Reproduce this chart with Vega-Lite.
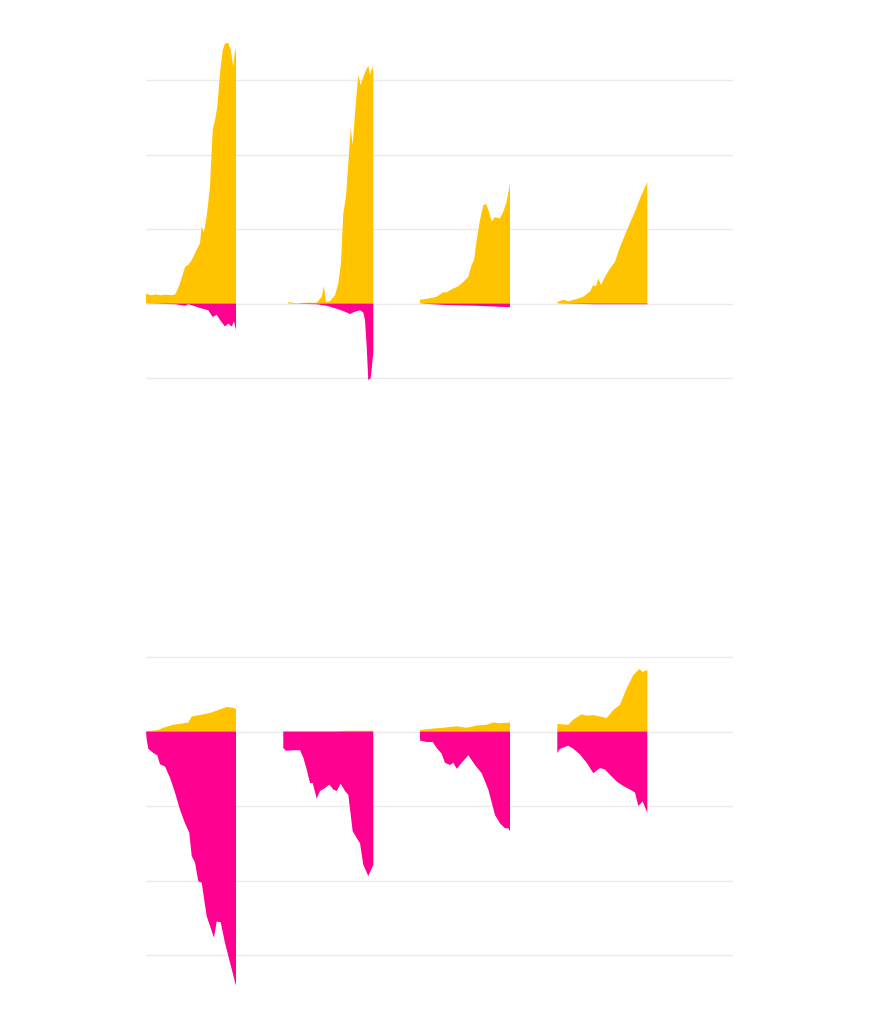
{
  "$schema": "https://vega.github.io/schema/vega-lite/v6.json",
  "background": "transparent",
  "autosize": {"type": "pad"},
  "padding": {"left": 146, "top": 42, "right": 0, "bottom": 0},
  "spacing": 276,
  "config": {
    "view": {"stroke": null},
    "axis": {
      "domain": false, "ticks": false, "labels": false, "title": null,
      "grid": true, "gridColor": "#000000", "gridOpacity": 0.08, "gridWidth": 1.5,
      "zindex": 1, "minExtent": 0, "maxExtent": 0
    }
  },
  "datasets": {
    "top": [
      {"panel": 1, "s": "up", "x": 0, "v": 0.13}, {"panel": 1, "s": "up", "x": 5, "v": 0.11}, {"panel": 1, "s": "up", "x": 10, "v": 0.12}, {"panel": 1, "s": "up", "x": 15, "v": 0.11}, {"panel": 1, "s": "up", "x": 20, "v": 0.12}, {"panel": 1, "s": "up", "x": 25, "v": 0.11}, {"panel": 1, "s": "up", "x": 29, "v": 0.12}, {"panel": 1, "s": "up", "x": 30.7, "v": 0.16}, {"panel": 1, "s": "up", "x": 34, "v": 0.27}, {"panel": 1, "s": "up", "x": 39, "v": 0.49}, {"panel": 1, "s": "up", "x": 42.3, "v": 0.52}, {"panel": 1, "s": "up", "x": 45.7, "v": 0.58}, {"panel": 1, "s": "up", "x": 50.7, "v": 0.72}, {"panel": 1, "s": "up", "x": 54, "v": 0.81}, {"panel": 1, "s": "up", "x": 55.7, "v": 1.03}, {"panel": 1, "s": "up", "x": 58, "v": 0.96}, {"panel": 1, "s": "up", "x": 60.7, "v": 1.17}, {"panel": 1, "s": "up", "x": 64, "v": 1.57}, {"panel": 1, "s": "up", "x": 66.7, "v": 2.33}, {"panel": 1, "s": "up", "x": 69, "v": 2.46}, {"panel": 1, "s": "up", "x": 71.3, "v": 2.64}, {"panel": 1, "s": "up", "x": 74, "v": 3.09}, {"panel": 1, "s": "up", "x": 76.7, "v": 3.4}, {"panel": 1, "s": "up", "x": 79, "v": 3.49}, {"panel": 1, "s": "up", "x": 82.3, "v": 3.5}, {"panel": 1, "s": "up", "x": 84.7, "v": 3.4}, {"panel": 1, "s": "up", "x": 87.3, "v": 3.18}, {"panel": 1, "s": "up", "x": 89.3, "v": 3.43}, {"panel": 1, "s": "up", "x": 90, "v": 3.35},
      {"panel": 1, "s": "down", "x": 0, "v": 0}, {"panel": 1, "s": "down", "x": 30, "v": -0.01}, {"panel": 1, "s": "down", "x": 34, "v": -0.02}, {"panel": 1, "s": "down", "x": 39, "v": -0.03}, {"panel": 1, "s": "down", "x": 42.3, "v": -0.01}, {"panel": 1, "s": "down", "x": 47.3, "v": -0.03}, {"panel": 1, "s": "down", "x": 54, "v": -0.06}, {"panel": 1, "s": "down", "x": 62.3, "v": -0.09}, {"panel": 1, "s": "down", "x": 66.7, "v": -0.18}, {"panel": 1, "s": "down", "x": 70.7, "v": -0.15}, {"panel": 1, "s": "down", "x": 74, "v": -0.22}, {"panel": 1, "s": "down", "x": 79, "v": -0.31}, {"panel": 1, "s": "down", "x": 82.3, "v": -0.27}, {"panel": 1, "s": "down", "x": 85.7, "v": -0.31}, {"panel": 1, "s": "down", "x": 88, "v": -0.24}, {"panel": 1, "s": "down", "x": 90, "v": -0.36},
      {"panel": 2, "s": "up", "x": 142.3, "v": 0.02}, {"panel": 2, "s": "up", "x": 150.7, "v": 0.0}, {"panel": 2, "s": "up", "x": 160, "v": 0.01}, {"panel": 2, "s": "up", "x": 170.7, "v": 0.01}, {"panel": 2, "s": "up", "x": 175.7, "v": 0.09}, {"panel": 2, "s": "up", "x": 178, "v": 0.23}, {"panel": 2, "s": "up", "x": 180, "v": 0.02}, {"panel": 2, "s": "up", "x": 184, "v": 0.03}, {"panel": 2, "s": "up", "x": 189, "v": 0.11}, {"panel": 2, "s": "up", "x": 192.3, "v": 0.27}, {"panel": 2, "s": "up", "x": 195, "v": 0.54}, {"panel": 2, "s": "up", "x": 197.3, "v": 1.21}, {"panel": 2, "s": "up", "x": 200, "v": 1.43}, {"panel": 2, "s": "up", "x": 202.3, "v": 1.88}, {"panel": 2, "s": "up", "x": 204.7, "v": 2.35}, {"panel": 2, "s": "up", "x": 206.7, "v": 2.13}, {"panel": 2, "s": "up", "x": 209, "v": 2.55}, {"panel": 2, "s": "up", "x": 212.3, "v": 3.07}, {"panel": 2, "s": "up", "x": 214.7, "v": 2.93}, {"panel": 2, "s": "up", "x": 217.3, "v": 3.04}, {"panel": 2, "s": "up", "x": 220, "v": 3.13}, {"panel": 2, "s": "up", "x": 222.3, "v": 3.19}, {"panel": 2, "s": "up", "x": 224, "v": 3.07}, {"panel": 2, "s": "up", "x": 226.3, "v": 3.18}, {"panel": 2, "s": "up", "x": 227.3, "v": 3.1},
      {"panel": 2, "s": "down", "x": 142.3, "v": 0}, {"panel": 2, "s": "down", "x": 170.7, "v": -0.01}, {"panel": 2, "s": "down", "x": 180.7, "v": -0.03}, {"panel": 2, "s": "down", "x": 190.7, "v": -0.07}, {"panel": 2, "s": "down", "x": 197.3, "v": -0.1}, {"panel": 2, "s": "down", "x": 204, "v": -0.14}, {"panel": 2, "s": "down", "x": 209, "v": -0.11}, {"panel": 2, "s": "down", "x": 214, "v": -0.09}, {"panel": 2, "s": "down", "x": 217.3, "v": -0.12}, {"panel": 2, "s": "down", "x": 219, "v": -0.22}, {"panel": 2, "s": "down", "x": 220.7, "v": -0.58}, {"panel": 2, "s": "down", "x": 222.3, "v": -1.03}, {"panel": 2, "s": "down", "x": 224.7, "v": -1.0}, {"panel": 2, "s": "down", "x": 226.3, "v": -0.8}, {"panel": 2, "s": "down", "x": 227.3, "v": -0.65},
      {"panel": 3, "s": "up", "x": 274, "v": 0.05}, {"panel": 3, "s": "up", "x": 284, "v": 0.07}, {"panel": 3, "s": "up", "x": 290.7, "v": 0.09}, {"panel": 3, "s": "up", "x": 297.3, "v": 0.15}, {"panel": 3, "s": "up", "x": 300.7, "v": 0.15}, {"panel": 3, "s": "up", "x": 305.7, "v": 0.19}, {"panel": 3, "s": "up", "x": 312.3, "v": 0.23}, {"panel": 3, "s": "up", "x": 317.3, "v": 0.29}, {"panel": 3, "s": "up", "x": 322.3, "v": 0.36}, {"panel": 3, "s": "up", "x": 325.7, "v": 0.52}, {"panel": 3, "s": "up", "x": 328, "v": 0.58}, {"panel": 3, "s": "up", "x": 330.7, "v": 0.85}, {"panel": 3, "s": "up", "x": 334, "v": 1.12}, {"panel": 3, "s": "up", "x": 337.3, "v": 1.32}, {"panel": 3, "s": "up", "x": 340, "v": 1.34}, {"panel": 3, "s": "up", "x": 342.3, "v": 1.26}, {"panel": 3, "s": "up", "x": 345.7, "v": 1.1}, {"panel": 3, "s": "up", "x": 349, "v": 1.16}, {"panel": 3, "s": "up", "x": 354, "v": 1.14}, {"panel": 3, "s": "up", "x": 357.3, "v": 1.23}, {"panel": 3, "s": "up", "x": 360.7, "v": 1.37}, {"panel": 3, "s": "up", "x": 364, "v": 1.61},
      {"panel": 3, "s": "down", "x": 274, "v": 0}, {"panel": 3, "s": "down", "x": 300, "v": -0.02}, {"panel": 3, "s": "down", "x": 330, "v": -0.03}, {"panel": 3, "s": "down", "x": 364, "v": -0.05},
      {"panel": 4, "s": "up", "x": 411.3, "v": 0.02}, {"panel": 4, "s": "up", "x": 417.3, "v": 0.05}, {"panel": 4, "s": "up", "x": 422.3, "v": 0.03}, {"panel": 4, "s": "up", "x": 430.7, "v": 0.06}, {"panel": 4, "s": "up", "x": 437.3, "v": 0.09}, {"panel": 4, "s": "up", "x": 444, "v": 0.16}, {"panel": 4, "s": "up", "x": 447.3, "v": 0.25}, {"panel": 4, "s": "up", "x": 450, "v": 0.23}, {"panel": 4, "s": "up", "x": 452.3, "v": 0.34}, {"panel": 4, "s": "up", "x": 455, "v": 0.25}, {"panel": 4, "s": "up", "x": 459, "v": 0.36}, {"panel": 4, "s": "up", "x": 464, "v": 0.47}, {"panel": 4, "s": "up", "x": 469, "v": 0.56}, {"panel": 4, "s": "up", "x": 474, "v": 0.76}, {"panel": 4, "s": "up", "x": 479, "v": 0.92}, {"panel": 4, "s": "up", "x": 484, "v": 1.08}, {"panel": 4, "s": "up", "x": 489, "v": 1.23}, {"panel": 4, "s": "up", "x": 494, "v": 1.41}, {"panel": 4, "s": "up", "x": 501.3, "v": 1.63},
      {"panel": 4, "s": "down", "x": 411.3, "v": 0}, {"panel": 4, "s": "down", "x": 450, "v": -0.01}, {"panel": 4, "s": "down", "x": 501.3, "v": -0.01}
    ],
    "bottom": [
      {"panel": 1, "s": "up", "x": 0, "v": 0}, {"panel": 1, "s": "up", "x": 12.3, "v": 0.02}, {"panel": 1, "s": "up", "x": 17.3, "v": 0.05}, {"panel": 1, "s": "up", "x": 27.3, "v": 0.09}, {"panel": 1, "s": "up", "x": 42.3, "v": 0.12}, {"panel": 1, "s": "up", "x": 45.7, "v": 0.2}, {"panel": 1, "s": "up", "x": 54, "v": 0.22}, {"panel": 1, "s": "up", "x": 64, "v": 0.25}, {"panel": 1, "s": "up", "x": 72.3, "v": 0.29}, {"panel": 1, "s": "up", "x": 80.7, "v": 0.33}, {"panel": 1, "s": "up", "x": 87.3, "v": 0.32}, {"panel": 1, "s": "up", "x": 90, "v": 0.3},
      {"panel": 1, "s": "down", "x": 0, "v": 0}, {"panel": 1, "s": "down", "x": 0.7, "v": -0.11}, {"panel": 1, "s": "down", "x": 2.3, "v": -0.23}, {"panel": 1, "s": "down", "x": 7.3, "v": -0.29}, {"panel": 1, "s": "down", "x": 11.3, "v": -0.32}, {"panel": 1, "s": "down", "x": 14, "v": -0.44}, {"panel": 1, "s": "down", "x": 19, "v": -0.47}, {"panel": 1, "s": "down", "x": 24, "v": -0.62}, {"panel": 1, "s": "down", "x": 29, "v": -0.82}, {"panel": 1, "s": "down", "x": 34, "v": -1.05}, {"panel": 1, "s": "down", "x": 39, "v": -1.23}, {"panel": 1, "s": "down", "x": 43.3, "v": -1.36}, {"panel": 1, "s": "down", "x": 45.7, "v": -1.67}, {"panel": 1, "s": "down", "x": 49, "v": -1.76}, {"panel": 1, "s": "down", "x": 52.3, "v": -2.01}, {"panel": 1, "s": "down", "x": 55.7, "v": -2.03}, {"panel": 1, "s": "down", "x": 60.7, "v": -2.48}, {"panel": 1, "s": "down", "x": 64, "v": -2.61}, {"panel": 1, "s": "down", "x": 68, "v": -2.77}, {"panel": 1, "s": "down", "x": 70.7, "v": -2.55}, {"panel": 1, "s": "down", "x": 74.7, "v": -2.56}, {"panel": 1, "s": "down", "x": 79, "v": -2.84}, {"panel": 1, "s": "down", "x": 84, "v": -3.1}, {"panel": 1, "s": "down", "x": 89.7, "v": -3.4}, {"panel": 1, "s": "down", "x": 90, "v": -3.4},
      {"panel": 2, "s": "up", "x": 137.3, "v": 0}, {"panel": 2, "s": "up", "x": 190, "v": 0}, {"panel": 2, "s": "up", "x": 200, "v": 0.01}, {"panel": 2, "s": "up", "x": 227.3, "v": 0.01},
      {"panel": 2, "s": "down", "x": 137.3, "v": -0.22}, {"panel": 2, "s": "down", "x": 140, "v": -0.26}, {"panel": 2, "s": "down", "x": 147.3, "v": -0.25}, {"panel": 2, "s": "down", "x": 154, "v": -0.25}, {"panel": 2, "s": "down", "x": 157.3, "v": -0.35}, {"panel": 2, "s": "down", "x": 160.7, "v": -0.51}, {"panel": 2, "s": "down", "x": 164, "v": -0.69}, {"panel": 2, "s": "down", "x": 166.7, "v": -0.69}, {"panel": 2, "s": "down", "x": 170.7, "v": -0.9}, {"panel": 2, "s": "down", "x": 174, "v": -0.8}, {"panel": 2, "s": "down", "x": 179, "v": -0.76}, {"panel": 2, "s": "down", "x": 183.3, "v": -0.71}, {"panel": 2, "s": "down", "x": 187.3, "v": -0.78}, {"panel": 2, "s": "down", "x": 190.7, "v": -0.8}, {"panel": 2, "s": "down", "x": 194.7, "v": -0.7}, {"panel": 2, "s": "down", "x": 199, "v": -0.8}, {"panel": 2, "s": "down", "x": 202.3, "v": -0.85}, {"panel": 2, "s": "down", "x": 206.7, "v": -1.34}, {"panel": 2, "s": "down", "x": 210.7, "v": -1.43}, {"panel": 2, "s": "down", "x": 214, "v": -1.5}, {"panel": 2, "s": "down", "x": 217.3, "v": -1.79}, {"panel": 2, "s": "down", "x": 222.3, "v": -1.94}, {"panel": 2, "s": "down", "x": 226.7, "v": -1.81}, {"panel": 2, "s": "down", "x": 227.3, "v": -1.8},
      {"panel": 3, "s": "up", "x": 274, "v": 0.02}, {"panel": 3, "s": "up", "x": 287.3, "v": 0.04}, {"panel": 3, "s": "up", "x": 297.3, "v": 0.05}, {"panel": 3, "s": "up", "x": 310.7, "v": 0.07}, {"panel": 3, "s": "up", "x": 320.7, "v": 0.05}, {"panel": 3, "s": "up", "x": 330.7, "v": 0.08}, {"panel": 3, "s": "up", "x": 340.7, "v": 0.09}, {"panel": 3, "s": "up", "x": 347.3, "v": 0.12}, {"panel": 3, "s": "up", "x": 354, "v": 0.11}, {"panel": 3, "s": "up", "x": 364, "v": 0.12},
      {"panel": 3, "s": "down", "x": 274, "v": -0.12}, {"panel": 3, "s": "down", "x": 280.7, "v": -0.14}, {"panel": 3, "s": "down", "x": 286.7, "v": -0.14}, {"panel": 3, "s": "down", "x": 290.7, "v": -0.22}, {"panel": 3, "s": "down", "x": 295.7, "v": -0.3}, {"panel": 3, "s": "down", "x": 299, "v": -0.42}, {"panel": 3, "s": "down", "x": 304, "v": -0.45}, {"panel": 3, "s": "down", "x": 307.3, "v": -0.42}, {"panel": 3, "s": "down", "x": 310.7, "v": -0.5}, {"panel": 3, "s": "down", "x": 315.7, "v": -0.42}, {"panel": 3, "s": "down", "x": 322.3, "v": -0.32}, {"panel": 3, "s": "down", "x": 329, "v": -0.45}, {"panel": 3, "s": "down", "x": 335.7, "v": -0.56}, {"panel": 3, "s": "down", "x": 342.3, "v": -0.78}, {"panel": 3, "s": "down", "x": 349, "v": -1.12}, {"panel": 3, "s": "down", "x": 354, "v": -1.23}, {"panel": 3, "s": "down", "x": 359, "v": -1.3}, {"panel": 3, "s": "down", "x": 362.3, "v": -1.3}, {"panel": 3, "s": "down", "x": 364, "v": -1.34},
      {"panel": 4, "s": "up", "x": 411.3, "v": 0.1}, {"panel": 4, "s": "up", "x": 422.3, "v": 0.09}, {"panel": 4, "s": "up", "x": 427.3, "v": 0.16}, {"panel": 4, "s": "up", "x": 435.7, "v": 0.23}, {"panel": 4, "s": "up", "x": 440.7, "v": 0.21}, {"panel": 4, "s": "up", "x": 447.3, "v": 0.22}, {"panel": 4, "s": "up", "x": 454, "v": 0.2}, {"panel": 4, "s": "up", "x": 460.7, "v": 0.18}, {"panel": 4, "s": "up", "x": 467.3, "v": 0.29}, {"panel": 4, "s": "up", "x": 474, "v": 0.36}, {"panel": 4, "s": "up", "x": 480.7, "v": 0.58}, {"panel": 4, "s": "up", "x": 487.3, "v": 0.76}, {"panel": 4, "s": "up", "x": 493.3, "v": 0.84}, {"panel": 4, "s": "up", "x": 496.7, "v": 0.8}, {"panel": 4, "s": "up", "x": 501.3, "v": 0.83},
      {"panel": 4, "s": "down", "x": 411.3, "v": -0.29}, {"panel": 4, "s": "down", "x": 414, "v": -0.23}, {"panel": 4, "s": "down", "x": 422.3, "v": -0.19}, {"panel": 4, "s": "down", "x": 427.3, "v": -0.23}, {"panel": 4, "s": "down", "x": 434, "v": -0.31}, {"panel": 4, "s": "down", "x": 440.7, "v": -0.42}, {"panel": 4, "s": "down", "x": 447.3, "v": -0.56}, {"panel": 4, "s": "down", "x": 454, "v": -0.49}, {"panel": 4, "s": "down", "x": 459, "v": -0.51}, {"panel": 4, "s": "down", "x": 464, "v": -0.58}, {"panel": 4, "s": "down", "x": 470.7, "v": -0.67}, {"panel": 4, "s": "down", "x": 477.3, "v": -0.73}, {"panel": 4, "s": "down", "x": 484, "v": -0.78}, {"panel": 4, "s": "down", "x": 489, "v": -0.82}, {"panel": 4, "s": "down", "x": 492.3, "v": -1.0}, {"panel": 4, "s": "down", "x": 496.7, "v": -0.94}, {"panel": 4, "s": "down", "x": 501.3, "v": -1.09}
    ]
  },
  "vconcat": [
    {
      "data": {"name": "top"},
      "width": 587,
      "height": 298,
      "mark": {"type": "area", "interpolate": "linear"},
      "encoding": {
        "x": {"field": "x", "type": "quantitative", "scale": {"domain": [0, 587], "nice": false, "zero": false}, "axis": null},
        "y": {"field": "v", "type": "quantitative", "stack": null, "scale": {"domain": [-1, 3], "nice": false}, "axis": {"values": [-1, 0, 1, 2, 3]}},
        "color": {"field": "s", "type": "nominal", "scale": {"domain": ["up", "down"], "range": ["#FFC300", "#FF0090"]}, "legend": null},
        "detail": {"field": "panel", "type": "nominal"}
      }
    },
    {
      "data": {"name": "bottom"},
      "width": 587,
      "height": 298,
      "mark": {"type": "area", "interpolate": "linear"},
      "encoding": {
        "x": {"field": "x", "type": "quantitative", "scale": {"domain": [0, 587], "nice": false, "zero": false}, "axis": null},
        "y": {"field": "v", "type": "quantitative", "stack": null, "scale": {"domain": [-3, 1], "nice": false}, "axis": {"values": [-3, -2, -1, 0, 1]}},
        "color": {"field": "s", "type": "nominal", "scale": {"domain": ["up", "down"], "range": ["#FFC300", "#FF0090"]}, "legend": null},
        "detail": {"field": "panel", "type": "nominal"}
      }
    }
  ]
}
